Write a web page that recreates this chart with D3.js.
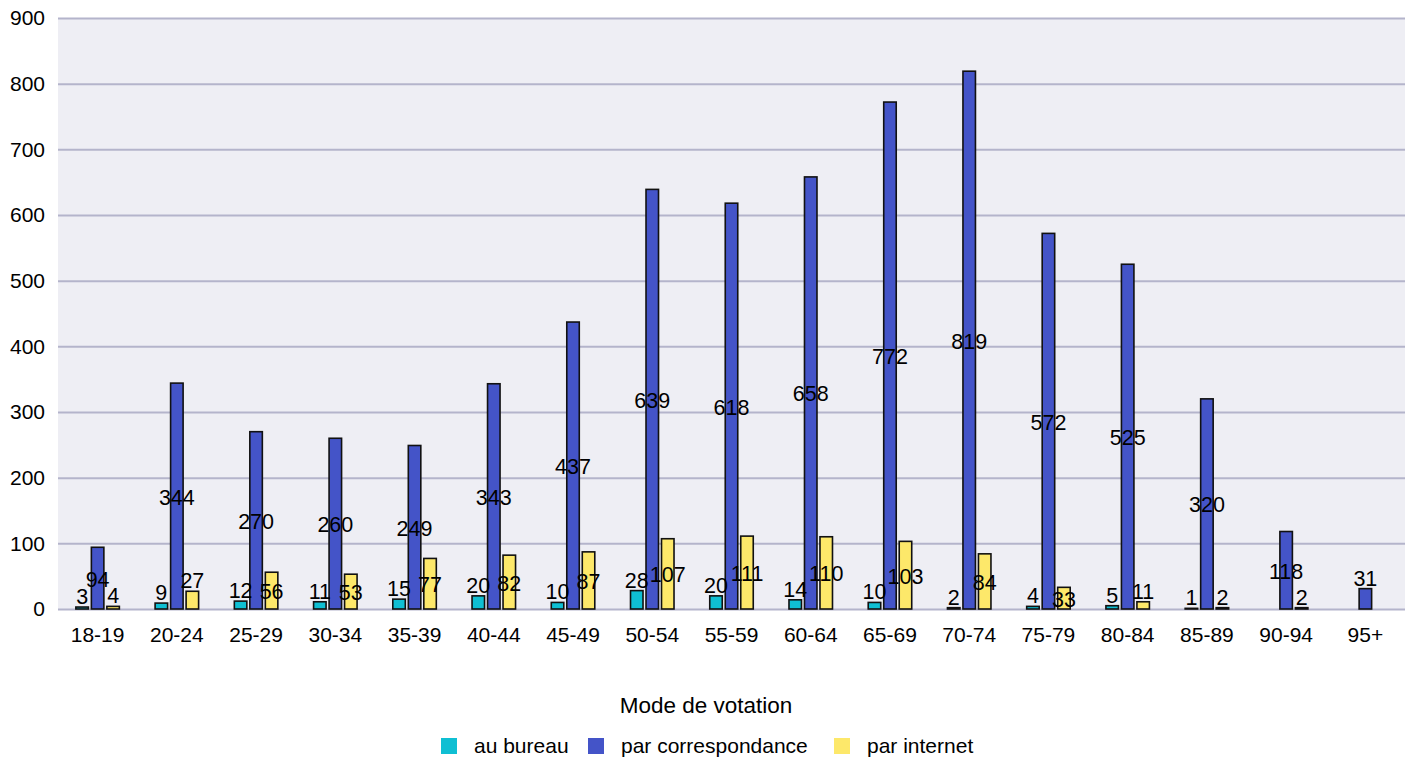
<!DOCTYPE html>
<html><head><meta charset="utf-8">
<script src="https://cdn.jsdelivr.net/npm/d3@7/dist/d3.min.js"></script>
<style>body{margin:0;background:#fff;}svg text{font-family:"Liberation Sans",Arial,sans-serif;}</style>
</head><body>
<svg id="chart" width="1411" height="760"></svg>
<script>
const categories = ["18-19","20-24","25-29","30-34","35-39","40-44","45-49","50-54","55-59","60-64","65-69","70-74","75-79","80-84","85-89","90-94","95+"];
const seriesNames = ["au bureau","par correspondance","par internet"];
const auBureau = [3,9,12,11,15,20,10,28,20,14,10,2,4,5,1,null,null];
const parCorrespondance = [94,344,270,260,249,343,437,639,618,658,772,819,572,525,320,118,31];
const parInternet = [4,27,56,53,77,82,87,107,111,110,103,84,33,11,2,2,null];
const yTicks = [0,100,200,300,400,500,600,700,800,900];
const colors = ["#0fbfd3","#4454c8","#fde86a"];
const legendTitle = "Mode de votation";

(function(){
const series = [auBureau, parCorrespondance, parInternet];
const svg = d3.select("#chart");
const mLeft = 58, mRight = 1405, mTop = 18, mBottom = 609;

const x = d3.scaleBand().domain(categories).range([mLeft, mRight]).paddingInner(0).paddingOuter(0);
const y = d3.scaleLinear().domain([0, 900]).range([mBottom, mTop]);
const barW = 12.5, step = 15.5;

svg.append("rect").attr("x", mLeft).attr("y", mTop).attr("width", mRight-mLeft).attr("height", mBottom-mTop).attr("fill", "#eeeef4");

const yAxis = d3.axisLeft(y).tickValues(yTicks).tickSize(-(mRight-mLeft)).tickPadding(13);
const gy = svg.append("g").attr("transform", `translate(${mLeft},0)`).call(yAxis);
gy.select(".domain").remove();
gy.selectAll(".tick line").attr("stroke", "#b4b4cb").attr("stroke-width", 2);
gy.selectAll(".tick text").attr("font-size", 21).attr("fill", "#000").attr("x", -13);

const xAxis = d3.axisBottom(x).tickSize(0).tickPadding(18);
const gx = svg.append("g").attr("transform", `translate(0,${mBottom})`).call(xAxis);
gx.select(".domain").remove();
gx.selectAll(".tick text").attr("font-size", 21).attr("fill", "#000");

const bars = [];
categories.forEach((c, i) => {
  series.forEach((s, j) => {
    const v = s[i];
    if (v === null || v === undefined) return;
    const cx = x(c) + x.bandwidth()/2 + (j-1)*step;
    bars.push({c, j, v, cx});
  });
});

svg.append("g").selectAll("rect").data(bars).join("rect")
  .attr("x", d => d.cx - barW/2)
  .attr("y", d => y(d.v))
  .attr("width", barW)
  .attr("height", d => mBottom - y(d.v))
  .attr("fill", d => colors[d.j])
  .attr("stroke", "#111")
  .attr("stroke-width", 1.6);

svg.append("g").selectAll("text").data(bars).join("text")
  .attr("x", d => d.cx)
  .attr("y", d => {
    const h = mBottom - y(d.v);
    if (h > 21) return y(d.v/2) + 8.5;
    return y(d.v) - 3;
  })
  .attr("text-anchor", "middle")
  .attr("font-size", 21.5)
  .attr("fill", "#000")
  .text(d => d.v);

svg.append("text").attr("x", 706).attr("y", 713).attr("text-anchor", "middle").attr("font-size", 22.5).attr("fill", "#000").text(legendTitle);

const legendX = [441, 588, 834];
const lg = svg.append("g");
seriesNames.forEach((n, j) => {
  lg.append("rect").attr("x", legendX[j]).attr("y", 738).attr("width", 16).attr("height", 16).attr("fill", colors[j]);
  lg.append("text").attr("x", legendX[j] + 33).attr("y", 753).attr("font-size", 21).attr("fill", "#000").text(n);
});
})();
</script>
</body></html>
